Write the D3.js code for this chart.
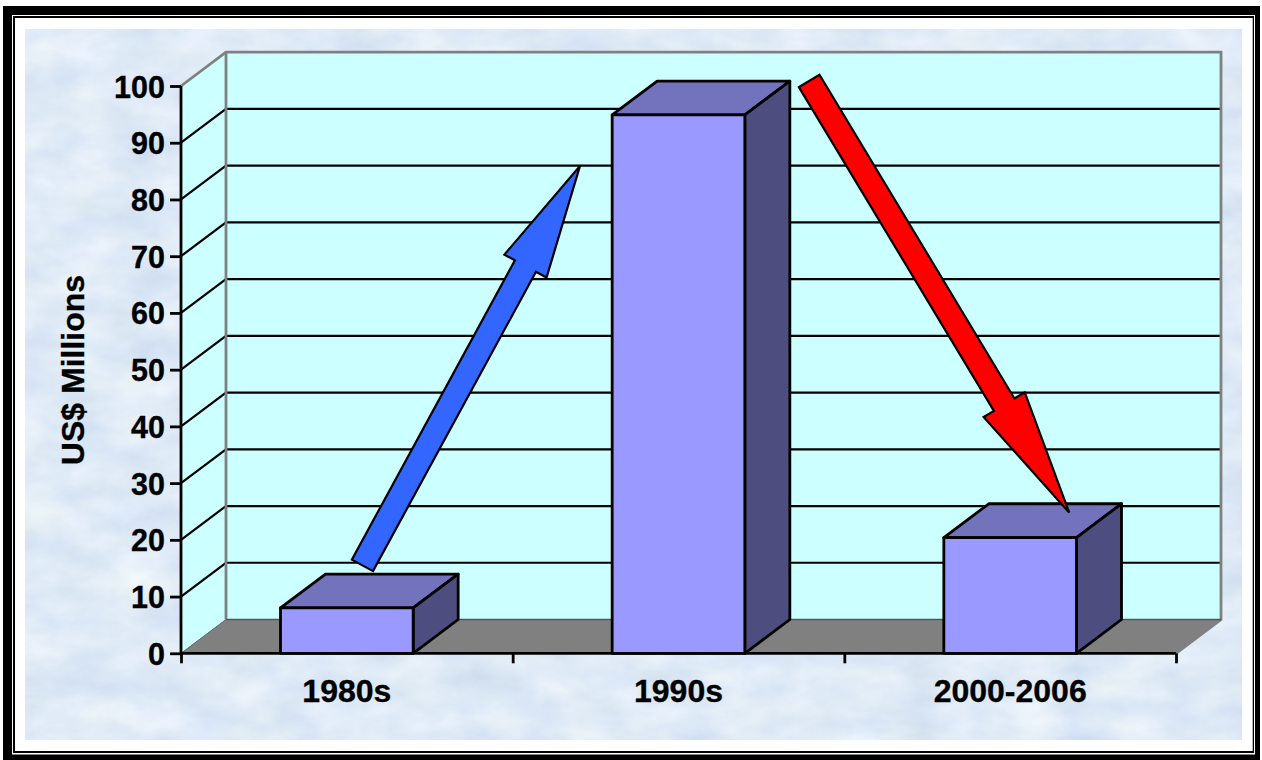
<!DOCTYPE html>
<html><head><meta charset="utf-8">
<script src="https://cdn.jsdelivr.net/npm/d3@7"></script>
<style>
html,body{margin:0;padding:0;background:#fff;overflow:hidden}
svg{display:block}
text{font-family:"Liberation Sans",Arial,sans-serif;font-weight:700;fill:#000;stroke:#000;stroke-width:0.35px}
</style></head><body>
<svg id="c" width="1262" height="760"></svg>
<script>
const categories = ["1980s","1990s","2000-2006"];
const values = [8.0, 94.9, 20.4];
const yTicks = [0,10,20,30,40,50,60,70,80,90,100];
const yTitle = "US$ Millions";
// arrows: [category position, value] for tail and tip
const arrowNames = ["rise","fall"];
const arrowTails = [[0.547,15.5],[1.894,100.9]];
const arrowTips  = [[1.203,85.9],[2.678,24.8]];
const arrowColors = ["#3366ff","#ff0000"];
const arrowHeads = [114,126];

const svg = d3.select("#c");
const L=181,R=1176,B=653.3,T=86,DX=45,DY=-33.8;
const x = d3.scaleBand().domain(categories).range([L,R]).paddingInner(0.6).paddingOuter(0.3);
const xPos = d3.scaleLinear().domain([0,3]).range([L,R]);
const y = d3.scaleLinear().domain([0,100]).range([B,T]);
const poly = pts => pts.map(p=>p.join(",")).join(" ");

// frame
[[3,6,1257,754,"#000"],[12,15,1243,739.5,"#fff"],[13,16,1241,737,"#000"],[15,18,1237.7,733,"#fff"]]
 .forEach(r=>svg.append("rect").attr("x",r[0]).attr("y",r[1]).attr("width",r[2]).attr("height",r[3]).attr("fill",r[4]));

// textured background
const defs=svg.append("defs");
const f=defs.append("filter").attr("id","tex").attr("filterUnits","userSpaceOnUse")
 .attr("x",25).attr("y",29).attr("width",1217).attr("height",711)
 .attr("color-interpolation-filters","sRGB");
f.append("feTurbulence").attr("type","fractalNoise").attr("baseFrequency","0.018 0.03").attr("numOctaves",5).attr("seed",11);
f.append("feColorMatrix").attr("type","matrix").attr("values",
 "0.15 0.04 0 0 0.78  0.11 0.03 0 0 0.848  0.05 0 0.04 0 0.92  0 0 0 0 1");
svg.append("rect").attr("x",25).attr("y",29).attr("width",1217).attr("height",711).attr("fill","#dfeaf6").attr("filter","url(#tex)");

// walls and floor
const gray="#808080";
svg.append("polygon").attr("points",poly([[L+DX,T+DY],[R+DX,T+DY],[R+DX,B+DY],[L+DX,B+DY]])).attr("fill","#ccffff");
svg.append("polygon").attr("points",poly([[L,T],[L+DX,T+DY],[L+DX,B+DY],[L,B]])).attr("fill","#ccffff");
svg.append("polygon").attr("points",poly([[L,B],[L+DX,B+DY],[R+DX,B+DY],[R,B]])).attr("fill",gray).attr("stroke","#666").attr("stroke-width",1);

// gridlines
yTicks.filter(v=>v>0&&v<100).forEach(v=>{
  svg.append("polyline").attr("points",poly([[L,y(v)],[L+DX,y(v)+DY],[R+DX,y(v)+DY]]))
    .attr("fill","none").attr("stroke","#000").attr("stroke-width",2.2);
});
svg.append("polyline").attr("points",poly([[L,T],[L+DX,T+DY],[R+DX,T+DY],[R+DX,B+DY],[R,B]]))
  .attr("fill","none").attr("stroke",gray).attr("stroke-width",2.8);
svg.append("line").attr("x1",L+DX).attr("x2",L+DX).attr("y1",T+DY).attr("y2",B+DY).attr("stroke",gray).attr("stroke-width",2.8);
svg.append("line").attr("x1",L+DX).attr("x2",R+DX).attr("y1",B+DY).attr("y2",B+DY).attr("stroke","#555").attr("stroke-width",1.5);

// bars
const bars=svg.selectAll("g.bar").data(categories.map((c,i)=>({c,v:values[i]}))).join("g").attr("class","bar")
  .attr("stroke","#000").attr("stroke-width",2.8).attr("stroke-linejoin","round");
bars.append("polygon").attr("fill","#7373bd").attr("points",d=>{const a=x(d.c),w=x.bandwidth(),t=y(d.v);
  return poly([[a,t],[a+DX,t+DY],[a+w+DX,t+DY],[a+w,t]]);});
bars.append("polygon").attr("fill","#4d4d80").attr("points",d=>{const a=x(d.c)+x.bandwidth(),t=y(d.v);
  return poly([[a,t],[a+DX,t+DY],[a+DX,B+DY],[a,B]]);});
bars.append("rect").attr("fill","#9999ff").attr("x",d=>x(d.c)).attr("y",d=>y(d.v)).attr("width",x.bandwidth()).attr("height",d=>B-y(d.v));

// axes
const yAxis=svg.append("g").attr("transform",`translate(${L},0)`)
  .call(d3.axisLeft(y).tickValues(yTicks).tickSize(11).tickPadding(5));
yAxis.select(".domain").attr("stroke","#000").attr("stroke-width",2.8).attr("d",`M0,${T}V${B}`);
yAxis.selectAll(".tick line").attr("stroke","#000").attr("stroke-width",2.8);
yAxis.selectAll(".tick text").attr("font-size",30.5).attr("dy",null).attr("y",11).style("font-family",'"Liberation Sans"').style("font-weight",700);

const xAxis=svg.append("g").attr("transform",`translate(0,${B})`)
  .call(d3.axisBottom(xPos).tickValues([0,1,2,3]).tickSize(10).tickFormat(""));
xAxis.select(".domain").attr("stroke","#000").attr("stroke-width",2.8).attr("d",`M${L},0H${R}`);
xAxis.selectAll(".tick line").attr("stroke","#000").attr("stroke-width",2.8);

svg.selectAll("text.cat").data(categories).join("text").attr("class","cat")
  .attr("x",d=>x(d)+x.bandwidth()/2).attr("y",702).attr("text-anchor","middle").attr("font-size",32).text(d=>d);
svg.append("text").attr("transform","translate(84,370) rotate(-90)").attr("text-anchor","middle").attr("font-size",32).text(yTitle);

// arrows
const shaftHalf=12, headHalf=24;
arrowNames.forEach((n,i)=>{
  const t=[xPos(arrowTails[i][0]),y(arrowTails[i][1])], p=[xPos(arrowTips[i][0]),y(arrowTips[i][1])];
  const dx=p[0]-t[0],dy=p[1]-t[1],len=Math.hypot(dx,dy),ux=dx/len,uy=dy/len,nx=-uy,ny=ux;
  const m=[p[0]-ux*arrowHeads[i],p[1]-uy*arrowHeads[i]];
  const off=(o,s)=>[o[0]+nx*s,o[1]+ny*s];
  svg.append("polygon").attr("class","arrow-"+n)
    .attr("points",poly([off(t,shaftHalf),off(m,shaftHalf),off(m,headHalf),p,off(m,-headHalf),off(m,-shaftHalf),off(t,-shaftHalf)]))
    .attr("fill",arrowColors[i]).attr("stroke","#000").attr("stroke-width",2.2).attr("stroke-linejoin","miter");
});
</script></body></html>
